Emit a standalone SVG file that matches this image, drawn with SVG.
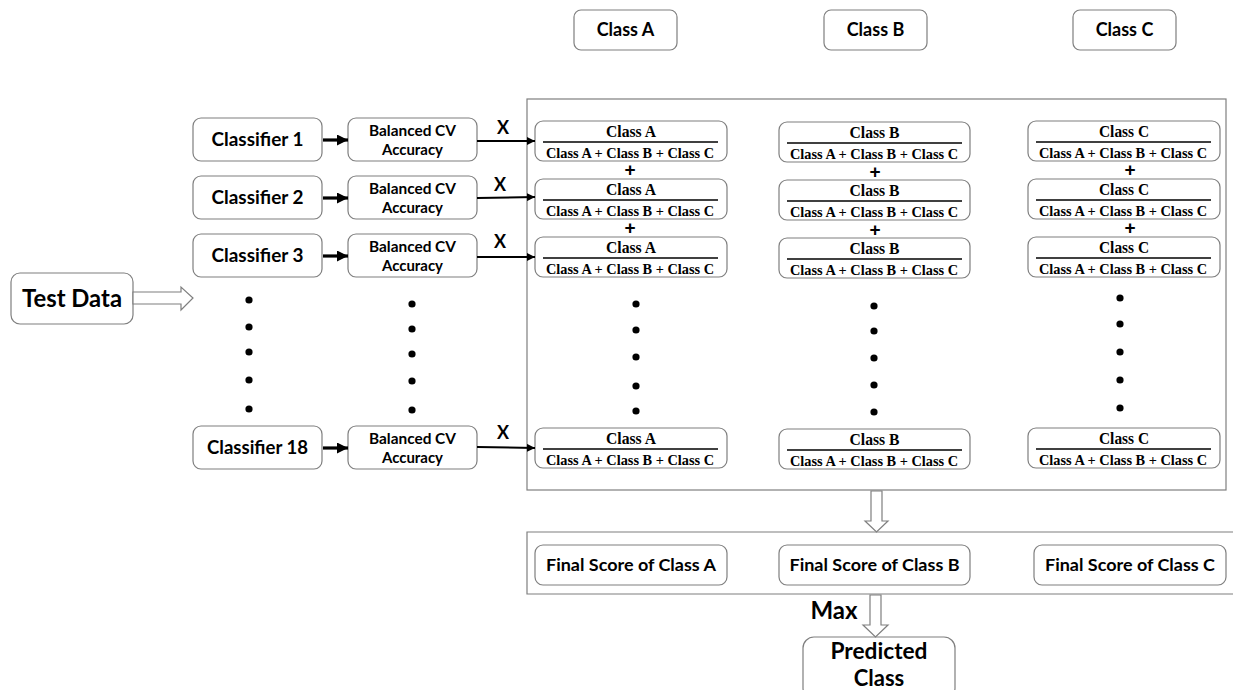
<svg xmlns="http://www.w3.org/2000/svg" width="1233" height="690" viewBox="0 0 1233 690">
<style>
.box{fill:#fff;stroke:#7f7f7f;stroke-width:1.2}
.frame{fill:none;stroke:#7f7f7f;stroke-width:1.2}
.hollow{fill:#fff;stroke:#7f7f7f;stroke-width:1.2}
.lbl{font-family:Lato,"Liberation Sans",sans-serif;font-weight:700;fill:#000;text-anchor:middle}
.num{font-family:"Liberation Serif",serif;font-weight:700;font-size:16px;fill:#000;text-anchor:middle}
.den{font-family:"Liberation Serif",serif;font-weight:700;font-size:15.5px;fill:#000;text-anchor:middle}
.plus{font-family:"Liberation Sans",sans-serif;font-weight:700;font-size:19px;fill:#000;text-anchor:middle}
.bar{stroke:#000;stroke-width:1.3}
.dot{fill:#000}
.thick{stroke:#000;stroke-width:3.2;fill:none}
.thin{stroke:#000;stroke-width:2;fill:none}
</style>
<defs>
<marker id="headThick" viewBox="0 0 10 10" refX="10" refY="5" markerWidth="11" markerHeight="11" markerUnits="userSpaceOnUse" orient="auto"><path d="M0,0 L10,5 L0,10 z" fill="#000"/></marker>
<marker id="headThin" viewBox="0 0 10 10" refX="10" refY="5" markerWidth="8" markerHeight="8" markerUnits="userSpaceOnUse" orient="auto"><path d="M0,0 L10,5 L0,10 z" fill="#000"/></marker>
</defs>

<g id="frames">
<rect class="frame" x="527" y="99" width="699" height="391"/>
<path class="frame" d="M1233,532 H527 V594 H1233"/>
</g>

<g id="classA-head"><rect class="box" x="574" y="10" width="103" height="40" rx="7"/><text class="lbl" x="625.5" y="36" font-size="18">Class A</text></g>
<g id="classB-head"><rect class="box" x="824" y="10" width="103" height="40" rx="7"/><text class="lbl" x="875.5" y="36" font-size="18">Class B</text></g>
<g id="classC-head"><rect class="box" x="1073" y="10" width="103" height="40" rx="7"/><text class="lbl" x="1124.5" y="36" font-size="18">Class C</text></g>

<g id="test-data"><rect class="box" x="11" y="273" width="122" height="51" rx="9"/><text class="lbl" x="72" y="307" font-size="25" textLength="100" lengthAdjust="spacingAndGlyphs">Test Data</text></g>

<g id="classifier-1"><rect class="box" x="193" y="118" width="129" height="43" rx="8"/><text class="lbl" x="257.5" y="146" font-size="18" textLength="92" lengthAdjust="spacingAndGlyphs">Classifier 1</text></g>
<g id="classifier-2"><rect class="box" x="193" y="176" width="129" height="43" rx="8"/><text class="lbl" x="257.5" y="204" font-size="18" textLength="92" lengthAdjust="spacingAndGlyphs">Classifier 2</text></g>
<g id="classifier-3"><rect class="box" x="193" y="234" width="129" height="43" rx="8"/><text class="lbl" x="257.5" y="262" font-size="18" textLength="92" lengthAdjust="spacingAndGlyphs">Classifier 3</text></g>
<g id="classifier-18"><rect class="box" x="193" y="426" width="129" height="43" rx="8"/><text class="lbl" x="257.5" y="454" font-size="18" textLength="101" lengthAdjust="spacingAndGlyphs">Classifier 18</text></g>

<g id="bcv-1"><rect class="box" x="348" y="118" width="129" height="43" rx="8"/><text class="lbl" x="412.5" y="136" font-size="15" textLength="87" lengthAdjust="spacingAndGlyphs">Balanced CV</text><text class="lbl" x="412.5" y="155" font-size="15" textLength="61" lengthAdjust="spacingAndGlyphs">Accuracy</text></g>
<g id="bcv-2"><rect class="box" x="348" y="176" width="129" height="43" rx="8"/><text class="lbl" x="412.5" y="194" font-size="15" textLength="87" lengthAdjust="spacingAndGlyphs">Balanced CV</text><text class="lbl" x="412.5" y="213" font-size="15" textLength="61" lengthAdjust="spacingAndGlyphs">Accuracy</text></g>
<g id="bcv-3"><rect class="box" x="348" y="234" width="129" height="43" rx="8"/><text class="lbl" x="412.5" y="252" font-size="15" textLength="87" lengthAdjust="spacingAndGlyphs">Balanced CV</text><text class="lbl" x="412.5" y="271" font-size="15" textLength="61" lengthAdjust="spacingAndGlyphs">Accuracy</text></g>
<g id="bcv-18"><rect class="box" x="348" y="426" width="129" height="43" rx="8"/><text class="lbl" x="412.5" y="444" font-size="15" textLength="87" lengthAdjust="spacingAndGlyphs">Balanced CV</text><text class="lbl" x="412.5" y="463" font-size="15" textLength="61" lengthAdjust="spacingAndGlyphs">Accuracy</text></g>

<!-- Column A fractions -->
<g id="fracA-1"><rect class="box" x="535" y="121" width="192" height="40" rx="8"/><text class="num" x="631" y="137" textLength="50" lengthAdjust="spacingAndGlyphs">Class A</text><line class="bar" x1="543" y1="142" x2="718" y2="142"/><text class="den" x="630" y="158" textLength="168" lengthAdjust="spacingAndGlyphs">Class A + Class B + Class C</text></g>
<g id="fracA-2"><rect class="box" x="535" y="179" width="192" height="40" rx="8"/><text class="num" x="631" y="195" textLength="50" lengthAdjust="spacingAndGlyphs">Class A</text><line class="bar" x1="543" y1="200" x2="718" y2="200"/><text class="den" x="630" y="216" textLength="168" lengthAdjust="spacingAndGlyphs">Class A + Class B + Class C</text></g>
<g id="fracA-3"><rect class="box" x="535" y="237" width="192" height="40" rx="8"/><text class="num" x="631" y="253" textLength="50" lengthAdjust="spacingAndGlyphs">Class A</text><line class="bar" x1="543" y1="258" x2="718" y2="258"/><text class="den" x="630" y="274" textLength="168" lengthAdjust="spacingAndGlyphs">Class A + Class B + Class C</text></g>
<g id="fracA-18"><rect class="box" x="535" y="428" width="192" height="40" rx="8"/><text class="num" x="631" y="444" textLength="50" lengthAdjust="spacingAndGlyphs">Class A</text><line class="bar" x1="543" y1="449" x2="718" y2="449"/><text class="den" x="630" y="465" textLength="168" lengthAdjust="spacingAndGlyphs">Class A + Class B + Class C</text></g>

<!-- Column B fractions -->
<g id="fracB-1"><rect class="box" x="779" y="122" width="191" height="40" rx="8"/><text class="num" x="874.5" y="138" textLength="50" lengthAdjust="spacingAndGlyphs">Class B</text><line class="bar" x1="787" y1="143" x2="962" y2="143"/><text class="den" x="874" y="159" textLength="168" lengthAdjust="spacingAndGlyphs">Class A + Class B + Class C</text></g>
<g id="fracB-2"><rect class="box" x="779" y="180" width="191" height="40" rx="8"/><text class="num" x="874.5" y="196" textLength="50" lengthAdjust="spacingAndGlyphs">Class B</text><line class="bar" x1="787" y1="201" x2="962" y2="201"/><text class="den" x="874" y="217" textLength="168" lengthAdjust="spacingAndGlyphs">Class A + Class B + Class C</text></g>
<g id="fracB-3"><rect class="box" x="779" y="238" width="191" height="40" rx="8"/><text class="num" x="874.5" y="254" textLength="50" lengthAdjust="spacingAndGlyphs">Class B</text><line class="bar" x1="787" y1="259" x2="962" y2="259"/><text class="den" x="874" y="275" textLength="168" lengthAdjust="spacingAndGlyphs">Class A + Class B + Class C</text></g>
<g id="fracB-18"><rect class="box" x="779" y="429" width="191" height="40" rx="8"/><text class="num" x="874.5" y="445" textLength="50" lengthAdjust="spacingAndGlyphs">Class B</text><line class="bar" x1="787" y1="450" x2="962" y2="450"/><text class="den" x="874" y="466" textLength="168" lengthAdjust="spacingAndGlyphs">Class A + Class B + Class C</text></g>

<!-- Column C fractions -->
<g id="fracC-1"><rect class="box" x="1028" y="121" width="192" height="40" rx="8"/><text class="num" x="1124" y="137" textLength="50" lengthAdjust="spacingAndGlyphs">Class C</text><line class="bar" x1="1036" y1="142" x2="1211" y2="142"/><text class="den" x="1123" y="158" textLength="168" lengthAdjust="spacingAndGlyphs">Class A + Class B + Class C</text></g>
<g id="fracC-2"><rect class="box" x="1028" y="179" width="192" height="40" rx="8"/><text class="num" x="1124" y="195" textLength="50" lengthAdjust="spacingAndGlyphs">Class C</text><line class="bar" x1="1036" y1="200" x2="1211" y2="200"/><text class="den" x="1123" y="216" textLength="168" lengthAdjust="spacingAndGlyphs">Class A + Class B + Class C</text></g>
<g id="fracC-3"><rect class="box" x="1028" y="237" width="192" height="40" rx="8"/><text class="num" x="1124" y="253" textLength="50" lengthAdjust="spacingAndGlyphs">Class C</text><line class="bar" x1="1036" y1="258" x2="1211" y2="258"/><text class="den" x="1123" y="274" textLength="168" lengthAdjust="spacingAndGlyphs">Class A + Class B + Class C</text></g>
<g id="fracC-18"><rect class="box" x="1028" y="428" width="192" height="40" rx="8"/><text class="num" x="1124" y="444" textLength="50" lengthAdjust="spacingAndGlyphs">Class C</text><line class="bar" x1="1036" y1="449" x2="1211" y2="449"/><text class="den" x="1123" y="465" textLength="168" lengthAdjust="spacingAndGlyphs">Class A + Class B + Class C</text></g>

<g id="final-A"><rect class="box" x="535" y="545" width="192" height="40" rx="8"/><text class="lbl" x="631" y="571" font-size="17" textLength="170" lengthAdjust="spacingAndGlyphs">Final Score of Class A</text></g>
<g id="final-B"><rect class="box" x="779" y="545" width="191" height="40" rx="8"/><text class="lbl" x="874.5" y="571" font-size="17" textLength="170" lengthAdjust="spacingAndGlyphs">Final Score of Class B</text></g>
<g id="final-C"><rect class="box" x="1034" y="545" width="192" height="40" rx="8"/><text class="lbl" x="1130" y="571" font-size="17" textLength="170" lengthAdjust="spacingAndGlyphs">Final Score of Class C</text></g>

<g id="predicted"><rect class="box" x="803" y="637" width="152" height="62" rx="11"/><text class="lbl" x="879" y="659" font-size="22" textLength="97" lengthAdjust="spacingAndGlyphs">Predicted</text><text class="lbl" x="879" y="686" font-size="22">Class</text></g>

<g id="connectors">
<path class="hollow" d="M133,292 H181 V287 L193,298 L181,310 V304 H133 z"/>
<line class="thick" x1="323" y1="140" x2="348" y2="140" marker-end="url(#headThick)"/>
<line class="thick" x1="323" y1="198" x2="348" y2="198" marker-end="url(#headThick)"/>
<line class="thick" x1="323" y1="256" x2="348" y2="256" marker-end="url(#headThick)"/>
<line class="thick" x1="323" y1="448" x2="348" y2="448" marker-end="url(#headThick)"/>
<line class="thin" x1="477" y1="141" x2="535" y2="141" marker-end="url(#headThin)"/>
<line class="thin" x1="477" y1="198" x2="535" y2="197" marker-end="url(#headThin)"/>
<line class="thin" x1="477" y1="257" x2="535" y2="257" marker-end="url(#headThin)"/>
<line class="thin" x1="477" y1="447" x2="535" y2="448" marker-end="url(#headThin)"/>
<path class="hollow" d="M871,491 V521 H865 L876.5,532 L888,521 H882 V491 z"/>
<path class="hollow" d="M870,595 V625 H863 L875.5,637 L888,625 H881 V595 z"/>
</g>

<g id="labels">
<text class="lbl" x="503" y="134" font-size="18">X</text>
<text class="lbl" x="500" y="191" font-size="18">X</text>
<text class="lbl" x="500" y="248" font-size="18">X</text>
<text class="lbl" x="503" y="439" font-size="18">X</text>
<text class="lbl" x="834" y="619" font-size="24">Max</text>
<text class="plus" x="630" y="176">+</text>
<text class="plus" x="630" y="234">+</text>
<text class="plus" x="875" y="178">+</text>
<text class="plus" x="875" y="236">+</text>
<text class="plus" x="1130" y="176">+</text>
<text class="plus" x="1130" y="234">+</text>
</g>

<g id="ellipses">
<circle class="dot" cx="249" cy="300" r="3.6"/><circle class="dot" cx="249" cy="327" r="3.6"/><circle class="dot" cx="249" cy="352" r="3.6"/><circle class="dot" cx="249" cy="380" r="3.6"/><circle class="dot" cx="249" cy="409" r="3.6"/>
<circle class="dot" cx="412" cy="304" r="3.6"/><circle class="dot" cx="412" cy="329" r="3.6"/><circle class="dot" cx="412" cy="354" r="3.6"/><circle class="dot" cx="412" cy="381" r="3.6"/><circle class="dot" cx="412" cy="410" r="3.6"/>
<circle class="dot" cx="636" cy="304" r="3.6"/><circle class="dot" cx="636" cy="330" r="3.6"/><circle class="dot" cx="636" cy="357" r="3.6"/><circle class="dot" cx="636" cy="386" r="3.6"/><circle class="dot" cx="636" cy="411" r="3.6"/>
<circle class="dot" cx="874" cy="306" r="3.6"/><circle class="dot" cx="874" cy="331" r="3.6"/><circle class="dot" cx="874" cy="358" r="3.6"/><circle class="dot" cx="874" cy="385" r="3.6"/><circle class="dot" cx="874" cy="412" r="3.6"/>
<circle class="dot" cx="1120" cy="298" r="3.6"/><circle class="dot" cx="1120" cy="324" r="3.6"/><circle class="dot" cx="1120" cy="352" r="3.6"/><circle class="dot" cx="1120" cy="380" r="3.6"/><circle class="dot" cx="1120" cy="408" r="3.6"/>
</g>
</svg>
